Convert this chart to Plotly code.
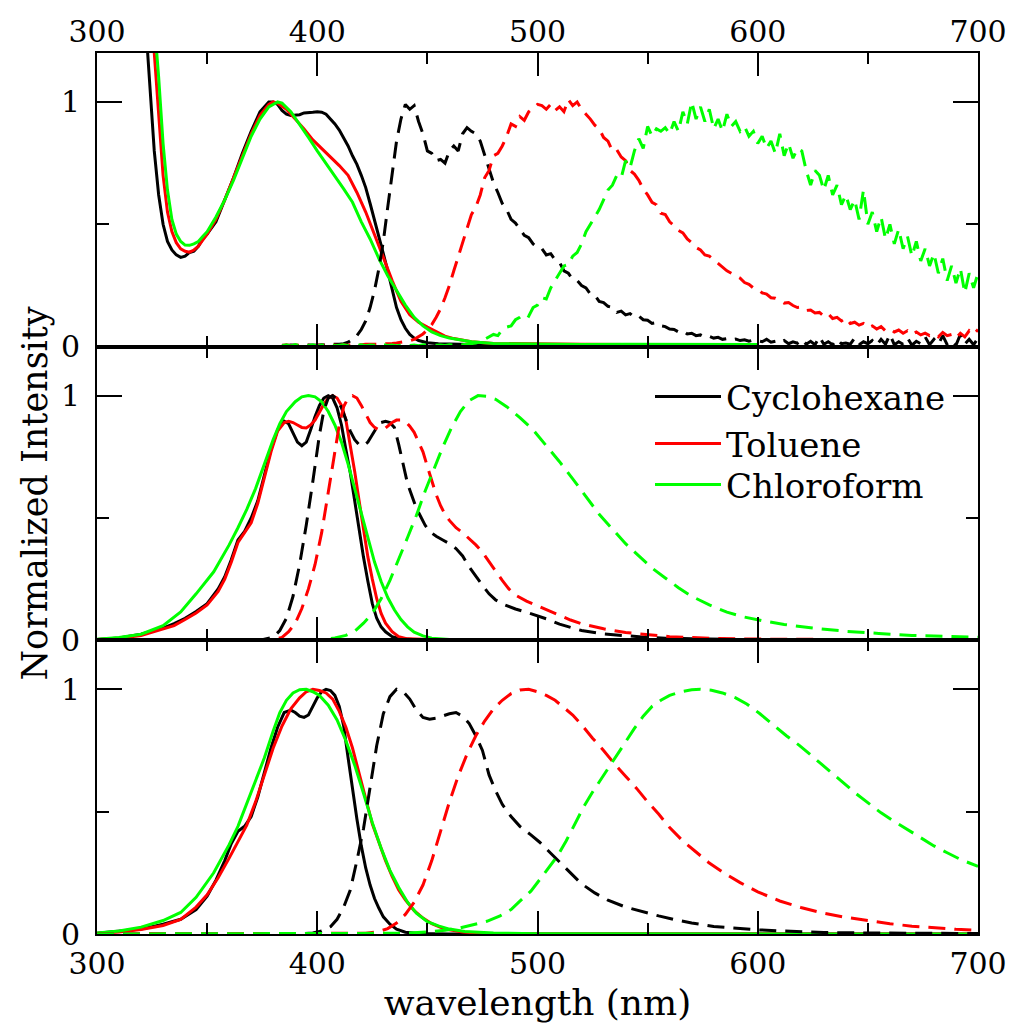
import plotly.graph_objects as go

# ---------------- DATA ----------------
# Top panel: absorption (solid) and noisy emission (dashed)
top_abs_cyc_x = [320, 322, 324, 326, 328, 330, 332, 334, 336, 338, 340, 342, 344, 346, 348, 350, 354, 358, 362, 366, 370, 374, 378, 380, 382, 384, 386, 388, 390, 392, 394, 396, 398, 400, 402, 404, 406, 408, 410, 412, 414, 416, 418, 420, 422, 424, 426, 428, 430, 432, 434, 436, 438, 440, 442, 444, 446, 450, 455, 460, 470, 480, 500, 520, 540, 560, 580, 600]
top_abs_cyc_y = [1.6, 1.32, 1.08, 0.8, 0.62, 0.5, 0.43, 0.395, 0.375, 0.365, 0.37, 0.385, 0.39, 0.41, 0.44, 0.46, 0.51, 0.6, 0.69, 0.79, 0.88, 0.96, 1.0, 1.0, 0.99, 0.965, 0.95, 0.945, 0.945, 0.948, 0.955, 0.955, 0.958, 0.96, 0.958, 0.95, 0.93, 0.91, 0.885, 0.855, 0.82, 0.78, 0.745, 0.7, 0.65, 0.585, 0.52, 0.45, 0.38, 0.31, 0.235, 0.16, 0.11, 0.075, 0.05, 0.035, 0.025, 0.016, 0.012, 0.01, 0.009, 0.008, 0.008, 0.007, 0.008, 0.007, 0.008, 0.007]

top_abs_tol_x = [322, 324, 326, 328, 330, 332, 334, 336, 338, 340, 342, 344, 346, 348, 350, 354, 358, 362, 366, 370, 374, 378, 380, 382, 386, 390, 394, 398, 402, 406, 410, 414, 418, 422, 426, 430, 434, 438, 442, 446, 450, 454, 458, 462, 466, 470, 480, 500, 520, 540, 560, 580, 600]
top_abs_tol_y = [1.7, 1.42, 1.2, 0.93, 0.7, 0.55, 0.47, 0.425, 0.4, 0.39, 0.386, 0.395, 0.41, 0.435, 0.46, 0.52, 0.6, 0.69, 0.78, 0.87, 0.945, 0.99, 1.0, 0.995, 0.97, 0.93, 0.89, 0.845, 0.81, 0.775, 0.74, 0.7, 0.63, 0.55, 0.46, 0.365, 0.27, 0.185, 0.13, 0.1, 0.08, 0.06, 0.043, 0.033, 0.025, 0.02, 0.013, 0.01, 0.01, 0.009, 0.01, 0.009, 0.008]

top_abs_chl_x = [322, 324, 326, 328, 330, 332, 334, 336, 338, 340, 342, 344, 346, 348, 350, 354, 358, 362, 366, 370, 374, 378, 382, 384, 388, 392, 396, 400, 404, 408, 412, 416, 420, 424, 428, 432, 436, 440, 444, 448, 452, 456, 460, 466, 470, 480, 500, 520, 540, 560, 580, 600]
top_abs_chl_y = [1.9, 1.6, 1.33, 1.1, 0.83, 0.64, 0.52, 0.46, 0.43, 0.415, 0.414, 0.42, 0.43, 0.45, 0.47, 0.53, 0.6, 0.68, 0.77, 0.86, 0.93, 0.98, 1.0, 0.995, 0.96, 0.91, 0.855, 0.8, 0.75, 0.7, 0.645, 0.59, 0.51, 0.44, 0.36, 0.29, 0.23, 0.17, 0.12, 0.085, 0.06, 0.045, 0.035, 0.025, 0.02, 0.013, 0.01, 0.009, 0.01, 0.009, 0.01, 0.009]

top_em_x = list(range(384, 701, 2))
top_em_cyc_y = [
    0.006, 0.004, 0.007, 0.005, 0.006, 0.004, 0.007, 0.005, 0.006, 0.008, 0.006, 0.009, 0.008, 0.010, 0.012,
    0.018, 0.03, 0.045, 0.07, 0.105, 0.16, 0.23, 0.32, 0.43, 0.57, 0.71, 0.84, 0.93, 0.99,
    0.97, 0.985, 0.92, 0.87, 0.80, 0.79, 0.76, 0.765, 0.75, 0.80, 0.82, 0.80, 0.87, 0.895, 0.88,
    0.87, 0.84, 0.78, 0.72, 0.67, 0.63, 0.585, 0.56, 0.52, 0.505, 0.48, 0.455, 0.445, 0.42, 0.405,
    0.40, 0.375, 0.38, 0.355, 0.345, 0.31, 0.30, 0.275, 0.27, 0.25, 0.24, 0.215, 0.21, 0.185, 0.18,
    0.165, 0.16, 0.14, 0.145, 0.13, 0.135, 0.12, 0.125, 0.11, 0.108, 0.095, 0.098, 0.085, 0.082, 0.072,
    0.07, 0.06, 0.065, 0.052, 0.055, 0.045, 0.048, 0.038, 0.042, 0.035, 0.038, 0.03, 0.033, 0.027, 0.031,
    0.025, 0.028, 0.022, 0.027, 0.024, 0.02, 0.03, 0.018, 0.022, 0.015, 0.025, 0.012, 0.02, 0.014, 0.03,
    0.01, 0.022, 0.008, 0.04, 0.01, 0.02, 0.008, 0.03, 0.012, 0.015, 0.01, 0.035, 0.008, 0.02, 0.012,
    0.025, 0.006, 0.03, 0.01, 0.05, 0.008, 0.02, 0.01, 0.035, 0.006, 0.022, 0.012, 0.04, 0.008, 0.03,
    0.01, 0.045, 0.008, 0.025, 0.006, 0.05, 0.01, 0.03, 0.008, 0.035]
top_em_tol_y = [
    0.005, 0.008, 0.004, 0.007, 0.005, 0.008, 0.006, 0.004, 0.007, 0.005, 0.008, 0.006, 0.007, 0.005, 0.008,
    0.006, 0.009, 0.007, 0.008, 0.01, 0.009, 0.011, 0.01, 0.012, 0.011, 0.013, 0.015, 0.017, 0.02,
    0.024, 0.03, 0.04, 0.052, 0.068, 0.09, 0.12, 0.155, 0.2, 0.25, 0.31, 0.37, 0.43, 0.49, 0.54,
    0.57, 0.62, 0.69, 0.72, 0.78, 0.79, 0.82, 0.86, 0.91, 0.90, 0.94, 0.925, 0.96, 0.975, 0.99,
    0.985, 0.97, 0.99, 0.965, 0.98, 0.96, 1.01, 0.985, 1.0, 0.97, 0.95, 0.93, 0.905, 0.89, 0.855,
    0.84, 0.80, 0.805, 0.775, 0.76, 0.72, 0.705, 0.68, 0.645, 0.62, 0.59, 0.58, 0.545, 0.54, 0.51,
    0.495, 0.475, 0.465, 0.44, 0.425, 0.405, 0.395, 0.375, 0.37, 0.355, 0.34, 0.325, 0.31, 0.3, 0.29,
    0.28, 0.262, 0.255, 0.24, 0.235, 0.22, 0.215, 0.2, 0.198, 0.188, 0.178, 0.18, 0.168, 0.16, 0.162,
    0.148, 0.15, 0.138, 0.14, 0.125, 0.135, 0.115, 0.12, 0.105, 0.118, 0.095, 0.1, 0.088, 0.095, 0.078,
    0.085, 0.072, 0.082, 0.065, 0.072, 0.06, 0.068, 0.055, 0.065, 0.05, 0.06, 0.048, 0.055, 0.045, 0.052,
    0.04, 0.058, 0.045, 0.05, 0.035, 0.055, 0.04, 0.065, 0.05, 0.07]
top_em_chl_y = [
    0.004, 0.008, 0.003, 0.009, 0.004, 0.007, 0.005, 0.008, 0.003, 0.007, 0.005, 0.009, 0.004, 0.006, 0.008,
    0.004, 0.007, 0.005, 0.008, 0.004, 0.007, 0.006, 0.004, 0.008, 0.005, 0.007, 0.004, 0.006, 0.008,
    0.005, 0.007, 0.004, 0.008, 0.005, 0.006, 0.004, 0.007, 0.005, 0.008, 0.006, 0.005, 0.008, 0.01, 0.012,
    0.015, 0.02, 0.03, 0.04, 0.05, 0.045, 0.07, 0.08, 0.085, 0.11, 0.12, 0.135, 0.125, 0.16, 0.17,
    0.2, 0.195, 0.24, 0.27, 0.3, 0.33, 0.335, 0.37, 0.385, 0.42, 0.47, 0.5, 0.535, 0.56, 0.6,
    0.64, 0.66, 0.70, 0.69, 0.76, 0.73, 0.80, 0.85, 0.81, 0.90, 0.86, 0.89, 0.88, 0.895, 0.87,
    0.92, 0.88, 0.96, 0.91, 1.0, 0.93, 0.98, 0.92, 0.97, 0.89, 0.93, 0.88, 0.95, 0.90, 0.92,
    0.88, 0.9, 0.86, 0.88, 0.83, 0.86, 0.81, 0.84, 0.79, 0.87, 0.78, 0.83, 0.77, 0.81, 0.8,
    0.72, 0.66, 0.72, 0.7, 0.64, 0.7, 0.62, 0.66, 0.58, 0.62, 0.56, 0.6, 0.52, 0.64, 0.5,
    0.55, 0.47, 0.53, 0.44, 0.5, 0.42, 0.48, 0.4, 0.45, 0.37, 0.43, 0.35, 0.4, 0.33, 0.38,
    0.3, 0.36, 0.27, 0.33, 0.26, 0.32, 0.22, 0.3, 0.24, 0.3]

# Middle panel
mid_abs_cyc_x = [300, 310, 320, 330, 335, 340, 345, 350, 355, 358, 361, 364, 367, 370, 373, 376, 379, 382, 385, 387, 389, 391, 393, 395, 397, 399, 401, 403, 405, 407, 409, 411, 413, 415, 417, 419, 421, 423, 425, 427, 429, 431, 434, 438, 445, 460, 700]
mid_abs_cyc_y = [0.003, 0.01, 0.025, 0.05, 0.068, 0.09, 0.118, 0.15, 0.21, 0.26, 0.33, 0.41, 0.445, 0.5, 0.57, 0.67, 0.78, 0.86, 0.895, 0.885, 0.845, 0.81, 0.795, 0.81, 0.86, 0.915, 0.96, 0.99, 1.0, 0.99, 0.95, 0.88, 0.78, 0.685, 0.57, 0.45, 0.34, 0.24, 0.15, 0.09, 0.055, 0.035, 0.015, 0.006, 0.002, 0.0, 0.0]
mid_abs_tol_x = [300, 310, 320, 330, 335, 340, 345, 350, 355, 358, 361, 364, 367, 370, 373, 376, 379, 382, 385, 387, 389, 391, 393, 395, 397, 399, 401, 403, 405, 407, 409, 411, 413, 415, 417, 419, 421, 423, 425, 427, 429, 431, 434, 437, 441, 450, 460, 700]
mid_abs_tol_y = [0.003, 0.008, 0.02, 0.045, 0.06, 0.085, 0.112, 0.145, 0.2, 0.25, 0.32, 0.4, 0.44, 0.48, 0.56, 0.67, 0.77, 0.855, 0.89, 0.895, 0.89, 0.88, 0.87, 0.868, 0.88, 0.9, 0.935, 0.965, 0.99, 1.0, 0.99, 0.96, 0.9, 0.8, 0.69, 0.57, 0.45, 0.34, 0.25, 0.17, 0.11, 0.07, 0.035, 0.015, 0.006, 0.002, 0.0, 0.0]
mid_abs_chl_x = [300, 310, 320, 330, 338, 345, 353, 360, 364, 368, 372, 376, 380, 383, 386, 390, 393, 396, 399, 402, 405, 408, 411, 414, 417, 420, 423, 426, 429, 432, 435, 438, 441, 444, 448, 452, 460, 480, 700]
mid_abs_chl_y = [0.004, 0.012, 0.025, 0.06, 0.116, 0.19, 0.28, 0.39, 0.46, 0.535, 0.62, 0.72, 0.82, 0.885, 0.935, 0.975, 0.995, 1.0, 0.995, 0.975, 0.935, 0.88, 0.81, 0.72, 0.62, 0.51, 0.41, 0.32, 0.24, 0.175, 0.125, 0.085, 0.055, 0.033, 0.018, 0.009, 0.003, 0.0, 0.0]

mid_em_cyc_x = [300, 360, 375, 380, 383, 386, 389, 392, 395, 398, 401, 403, 405, 407, 409, 411, 413, 415, 417, 419, 421, 423, 425, 427, 429, 431, 433, 435, 437, 439, 441, 443, 445, 447, 449, 451, 454, 457, 460, 463, 466, 469, 472, 475, 478, 481, 485, 490, 495, 500, 505, 510, 515, 520, 530, 540, 550, 560, 580, 600, 650, 700]
mid_em_cyc_y = [0.0, 0.0, 0.003, 0.012, 0.04, 0.09, 0.18, 0.31, 0.47, 0.65, 0.84, 0.94, 0.99, 1.0, 0.985, 0.95, 0.9, 0.855, 0.82, 0.8, 0.795, 0.81, 0.84, 0.87, 0.89, 0.895, 0.89, 0.87, 0.8, 0.72, 0.64, 0.59, 0.54, 0.505, 0.47, 0.445, 0.425, 0.41, 0.395, 0.375, 0.345, 0.3, 0.26, 0.225, 0.19, 0.165, 0.145, 0.128, 0.115, 0.1, 0.085, 0.066, 0.052, 0.04, 0.026, 0.018, 0.012, 0.008, 0.004, 0.002, 0.001, 0.0]
mid_em_tol_x = [300, 370, 380, 384, 387, 390, 393, 396, 399, 402, 405, 408, 410, 412, 414, 416, 418, 420, 422, 424, 426, 428, 430, 432, 434, 436, 438, 440, 442, 444, 446, 448, 450, 452, 454, 456, 458, 460, 463, 466, 469, 472, 475, 478, 481, 484, 487, 490, 495, 500, 505, 510, 515, 520, 530, 540, 550, 560, 580, 600, 650, 700]
mid_em_tol_y = [0.0, 0.0, 0.003, 0.012, 0.035, 0.07, 0.13, 0.21, 0.31, 0.44, 0.6, 0.77, 0.88, 0.955, 0.99, 1.0, 0.99, 0.96, 0.925, 0.89, 0.87, 0.86, 0.86, 0.875, 0.89, 0.9, 0.9, 0.895, 0.875, 0.85, 0.81, 0.77, 0.71, 0.65, 0.595, 0.55, 0.515, 0.49, 0.46, 0.44, 0.415, 0.39, 0.36, 0.32, 0.28, 0.245, 0.21, 0.185, 0.16, 0.14, 0.12, 0.1, 0.083, 0.068, 0.047, 0.032, 0.022, 0.015, 0.008, 0.005, 0.003, 0.002]
mid_em_chl_x = [300, 395, 402, 408, 413, 417, 421, 425, 429, 433, 437, 441, 445, 449, 453, 457, 461, 465, 469, 473, 477, 481, 486, 492, 498, 504, 510, 516, 522, 528, 534, 540, 546, 552, 558, 564, 570, 578, 586, 594, 602, 612, 625, 640, 655, 670, 685, 700]
mid_em_chl_y = [0.0, 0.0, 0.003, 0.01, 0.02, 0.037, 0.07, 0.11, 0.17, 0.245, 0.33, 0.42, 0.51, 0.61, 0.7, 0.79, 0.87, 0.935, 0.98, 1.0, 0.997, 0.985, 0.955, 0.91, 0.86, 0.795, 0.73, 0.66, 0.585, 0.515, 0.455, 0.395, 0.345, 0.295, 0.255, 0.215, 0.18, 0.145, 0.115, 0.095, 0.08, 0.065, 0.05, 0.037, 0.028, 0.02, 0.016, 0.013]

# Bottom panel
bot_abs_cyc_x = [300, 310, 320, 330, 338, 345, 350, 354, 358, 361, 364, 367, 370, 373, 376, 379, 382, 385, 388, 390, 392, 394, 396, 398, 400, 402, 404, 406, 408, 410, 412, 414, 416, 418, 420, 422, 424, 426, 428, 430, 433, 436, 440, 446, 460, 700]
bot_abs_cyc_y = [0.003, 0.01, 0.02, 0.04, 0.06, 0.1, 0.155, 0.22, 0.3, 0.37, 0.42, 0.44, 0.48, 0.56, 0.66, 0.76, 0.845, 0.905, 0.915, 0.905, 0.89, 0.885, 0.895, 0.93, 0.965, 0.99, 1.0, 0.995, 0.975, 0.93, 0.85, 0.72, 0.59, 0.47, 0.36, 0.27, 0.2, 0.145, 0.105, 0.07, 0.04, 0.02, 0.007, 0.002, 0.0, 0.0]
bot_abs_tol_x = [300, 310, 320, 330, 338, 345, 350, 355, 360, 364, 368, 372, 376, 380, 384, 388, 392, 395, 398, 401, 404, 407, 410, 413, 416, 419, 422, 425, 428, 431, 434, 437, 440, 444, 448, 452, 456, 460, 466, 475, 490, 700]
bot_abs_tol_y = [0.002, 0.008, 0.018, 0.035, 0.06, 0.11, 0.16, 0.23, 0.31, 0.38, 0.445, 0.54, 0.655, 0.76, 0.85, 0.92, 0.965, 0.99, 1.0, 0.995, 0.985, 0.96, 0.91, 0.845, 0.76, 0.66, 0.555, 0.45, 0.375, 0.3, 0.235, 0.18, 0.14, 0.095, 0.065, 0.042, 0.027, 0.017, 0.008, 0.003, 0.0, 0.0]
bot_abs_chl_x = [300, 310, 320, 330, 338, 345, 353, 360, 364, 368, 372, 376, 380, 383, 386, 389, 392, 395, 398, 401, 405, 409, 413, 417, 421, 425, 429, 433, 437, 441, 445, 450, 455, 460, 467, 480, 500, 700]
bot_abs_chl_y = [0.004, 0.012, 0.028, 0.055, 0.088, 0.15, 0.25, 0.365, 0.44, 0.535, 0.63, 0.72, 0.83, 0.905, 0.955, 0.985, 0.998, 1.0, 0.99, 0.975, 0.935, 0.875, 0.79, 0.69, 0.575, 0.455, 0.35, 0.26, 0.19, 0.13, 0.085, 0.05, 0.033, 0.02, 0.01, 0.004, 0.001, 0.0]

bot_em_cyc_x = [300, 390, 398, 402, 406, 409, 412, 415, 418, 421, 424, 427, 430, 433, 436, 439, 442, 445, 448, 451, 454, 457, 460, 463, 466, 469, 472, 475, 478, 481, 484, 488, 492, 497, 501, 506, 511, 516, 520, 526, 532, 540, 547, 555, 562, 570, 580, 590, 600, 615, 630, 650, 700]
bot_em_cyc_y = [0.0, 0.0, 0.004, 0.012, 0.03, 0.06, 0.11, 0.18, 0.3, 0.43, 0.6, 0.77, 0.9, 0.97, 1.0, 0.99, 0.96, 0.915, 0.885, 0.878, 0.882, 0.892, 0.9, 0.905, 0.89, 0.86, 0.81, 0.75, 0.65, 0.585, 0.53, 0.48, 0.44, 0.405, 0.375, 0.33, 0.285, 0.24, 0.205, 0.168, 0.138, 0.11, 0.092, 0.074, 0.059, 0.045, 0.031, 0.023, 0.017, 0.011, 0.006, 0.004, 0.002]
bot_em_tol_x = [300, 415, 422, 428, 432, 436, 440, 444, 448, 452, 456, 460, 464, 468, 472, 476, 480, 484, 488, 492, 496, 500, 504, 508, 512, 516, 520, 525, 530, 535, 540, 545, 550, 555, 560, 566, 572, 578, 585, 592, 600, 610, 620, 630, 640, 650, 660, 670, 680, 690, 700]
bot_em_tol_y = [0.0, 0.0, 0.003, 0.01, 0.022, 0.045, 0.08, 0.13, 0.2, 0.3, 0.42, 0.54, 0.645, 0.735, 0.81, 0.87, 0.92, 0.955, 0.982, 0.997, 1.0, 0.99, 0.975, 0.955, 0.925, 0.895, 0.855, 0.8, 0.75, 0.695, 0.645, 0.595, 0.54, 0.49, 0.435, 0.38, 0.335, 0.29, 0.248, 0.21, 0.172, 0.135, 0.107, 0.085, 0.068, 0.054, 0.042, 0.032, 0.025, 0.019, 0.015]
bot_em_chl_x = [300, 430, 440, 450, 458, 465, 471, 477, 483, 488, 492, 497, 501, 505, 509, 513, 517, 521, 525, 530, 535, 540, 544, 548, 552, 556, 560, 565, 570, 574, 579, 584, 590, 595, 601, 607, 613, 619, 625, 632, 638, 644, 650, 656, 662, 668, 674, 680, 686, 692, 700]
bot_em_chl_y = [0.0, 0.0, 0.003, 0.008, 0.015, 0.025, 0.037, 0.052, 0.074, 0.1, 0.134, 0.175, 0.222, 0.27, 0.318, 0.38, 0.45, 0.52, 0.58, 0.65, 0.72, 0.785, 0.84, 0.89, 0.93, 0.955, 0.975, 0.99, 0.998, 1.0, 0.996, 0.985, 0.965, 0.94, 0.9, 0.855, 0.81, 0.77, 0.725, 0.67, 0.625, 0.578, 0.535, 0.495, 0.46, 0.427, 0.393, 0.36, 0.332, 0.305, 0.276]

solvents = ["Cyclohexane", "Toluene", "Chloroform"]
colors = ["#000000", "#ff0000", "#00ff00"]
x_ticks = [300, 400, 500, 600, 700]
y_ticks = [0, 1]

# ---------------- FIGURE ----------------
FONT = "DejaVu Serif"
fig = go.Figure()
DASH = "17px,9px"
LW = 3

panels = [
    ("x", "y", [(top_abs_cyc_x, top_abs_cyc_y), (top_abs_tol_x, top_abs_tol_y), (top_abs_chl_x, top_abs_chl_y)],
               [(top_em_x, top_em_cyc_y), (top_em_x, top_em_tol_y), (top_em_x, top_em_chl_y)]),
    ("x2", "y2", [(mid_abs_cyc_x, mid_abs_cyc_y), (mid_abs_tol_x, mid_abs_tol_y), (mid_abs_chl_x, mid_abs_chl_y)],
                 [(mid_em_cyc_x, mid_em_cyc_y), (mid_em_tol_x, mid_em_tol_y), (mid_em_chl_x, mid_em_chl_y)]),
    ("x3", "y3", [(bot_abs_cyc_x, bot_abs_cyc_y), (bot_abs_tol_x, bot_abs_tol_y), (bot_abs_chl_x, bot_abs_chl_y)],
                 [(bot_em_cyc_x, bot_em_cyc_y), (bot_em_tol_x, bot_em_tol_y), (bot_em_chl_x, bot_em_chl_y)]),
]
legend_ids = ["legend", "legend2", "legend3"]
for pi, (xa, ya, solids, dashes) in enumerate(panels):
    for i, (xs, ys) in enumerate(solids):
        fig.add_trace(go.Scatter(x=xs, y=ys, mode="lines", xaxis=xa, yaxis=ya,
                                 line=dict(color=colors[i], width=LW),
                                 name=solvents[i], showlegend=(pi == 1),
                                 legend=legend_ids[i]))
    for i, (xs, ys) in enumerate(dashes):
        fig.add_trace(go.Scatter(x=xs, y=ys, mode="lines", xaxis=xa, yaxis=ya,
                                 line=dict(color=colors[i], width=LW, dash=DASH),
                                 name=solvents[i], showlegend=False))

tickfont = dict(family=FONT, size=30, color="black")

def xaxis_cfg(anchor, side, labels, standoff):
    return dict(range=[300, 700], anchor=anchor, side=side, tickvals=x_ticks, automargin=False,
                showticklabels=labels, ticks="inside", ticklen=23, tickwidth=2, tickcolor="black",
                minor=dict(dtick=50, ticks="inside", ticklen=11, tickwidth=2, tickcolor="black"),
                showline=True, linewidth=2, linecolor="black", mirror="allticks",
                showgrid=False, zeroline=False, tickfont=tickfont, ticklabelstandoff=standoff)

def yaxis_cfg(anchor, domain):
    return dict(range=[0, 1.2], anchor=anchor, domain=domain, tickvals=y_ticks, automargin=False,
                ticks="inside", ticklen=25, tickwidth=2, tickcolor="black",
                minor=dict(tickvals=[0.5], ticks="inside", ticklen=12, tickwidth=2, tickcolor="black"),
                showline=True, linewidth=2, linecolor="black", mirror="allticks",
                showgrid=False, zeroline=False, tickfont=tickfont, ticklabelstandoff=9)

def yright_cfg(anchor, over):
    return dict(range=[0, 1.2], anchor=anchor, overlaying=over, side="right", tickvals=y_ticks,
                ticks="", showline=False, showgrid=False, zeroline=False, tickfont=tickfont,
                ticklabelstandoff=11, automargin=False)

h = 1.0 / 3
fig.update_layout(
    width=1011, height=1023,
    margin=dict(l=97, r=33, t=53, b=89, autoexpand=False),
    paper_bgcolor="white", plot_bgcolor="white",
    font=dict(family=FONT, color="black"),
    xaxis=xaxis_cfg("y", "top", True, -3),
    xaxis2=xaxis_cfg("y2", "bottom", False, 3),
    xaxis3=xaxis_cfg("y3", "bottom", True, 2),
    yaxis=yaxis_cfg("x", [2 * h, 1]),
    yaxis2=yaxis_cfg("x2", [h, 2 * h]),
    yaxis3=yaxis_cfg("x3", [0, h]),
    yaxis4=yright_cfg("x", "y"),
    yaxis5=yright_cfg("x2", "y2"),
    yaxis6=yright_cfg("x3", "y3"),
)
fig.layout.xaxis3.title = dict(text="wavelength (nm)", font=dict(family=FONT, size=36), standoff=14)
fig.layout.yaxis2.title = dict(text="Normalized Intensity", font=dict(family=FONT, size=35), standoff=3)

# three single-entry legends placed like the stacked reference legend
leg_y_px = [397, 444, 485]
for lid, py in zip(legend_ids, leg_y_px):
    fig.layout[lid] = dict(x=(650 - 97) / 881, xanchor="left", y=(934 - py) / 881, yanchor="middle",
                           bgcolor="rgba(0,0,0,0)", borderwidth=0,
                           font=dict(family=FONT, size=34, color="black"), itemwidth=66)

fig.write_html("out.html")
